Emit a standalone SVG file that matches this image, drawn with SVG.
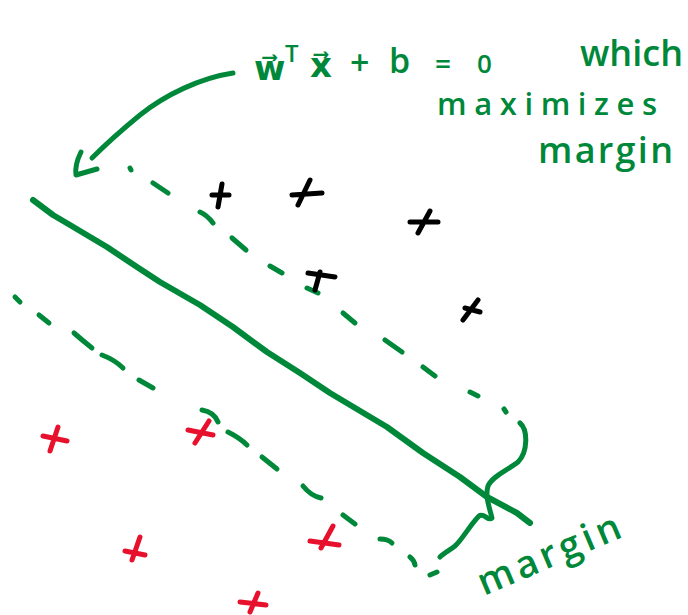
<svg xmlns="http://www.w3.org/2000/svg" width="688" height="615" viewBox="0 0 688 615">
<style>
.g{fill:none;stroke:#00883a;stroke-linecap:round;stroke-linejoin:round}
.main{stroke-width:6}
.dash{stroke-width:5}
.k{fill:none;stroke:#000;stroke-width:5;stroke-linecap:round}
.r{fill:none;stroke:#e8112d;stroke-width:5;stroke-linecap:round}
.hw{fill:#00883a;font-family:"Open Sans","DejaVu Sans",sans-serif;font-weight:600}
</style>
<rect width="688" height="615" fill="#fff"/>

<g id="lines">
  <path id="hyperplane" class="g main" d="M33,200 L53,215 L70,225 L107,247 L137,267 L160,282 L200,305 L233,327 L267,352 L300,373 L330,393 L387,427 L423,453 L460,477 L487,497 L517,513 L530,523"/>
  <g id="upper-margin" class="g dash">
    <path d="M130,168 L131,170"/>
    <path d="M153,183 L168,193"/>
    <path d="M200,212 Q207,215 213,223"/>
    <path d="M232,238 L246,250"/>
    <path d="M270,266 L282,273"/>
    <path d="M307,288 L318,293"/>
    <path d="M343,313 L355,323"/>
    <path d="M385,340 L402,352"/>
    <path d="M423,367 L435,376"/>
    <path d="M470,392 L478,396"/>
    <path d="M504,409 L506,412"/>
  </g>
  <g id="lower-margin" class="g dash">
    <path d="M15,297 L20,302"/>
    <path d="M39,315 L49,323"/>
    <path d="M74,333 Q82,340 92,348"/>
    <path d="M102,355 Q115,360 123,368"/>
    <path d="M139,380 L153,388"/>
    <path d="M202,410 Q214,412 218,422"/>
    <path d="M228,432 Q240,438 247,445"/>
    <path d="M262,457 L277,469"/>
    <path d="M303,486 Q311,496 321,498"/>
    <path d="M343,515 L355,524"/>
    <path d="M380,539 Q388,539 392,543"/>
    <path d="M410,557 Q414,560 415,565"/>
    <path d="M430,575 L437,572"/>
  </g>
</g>

<g id="connectors">
  <g id="arrow-to-hyperplane" class="g dash">
    <path d="M233,73 C200,78 165,95 140,115 C118,133 100,150 92,158"/>
    <path d="M81,152 C77,160 75,168 76,175 L97,169"/>
  </g>
  <path id="margin-brace" class="g dash" d="M520,423 C528,430 528,452 518,462 C508,470 492,476 488,486 C485,496 489,506 492,518 C488,522 484,512 479,516 C470,525 462,540 455,546 C450,550 444,553 440,557"/>
</g>

<g id="positive-points" class="k">
  <g id="p1"><path d="M212,195 L229,195 M222,184 L218,207"/></g>
  <g id="p2"><path d="M292,195 L322,193 M310,180 L298,205"/></g>
  <g id="p3"><path d="M410,222 L438,222 M430,211 L418,233"/></g>
  <g id="p4"><path d="M308,273 L335,277 M320,272 L315,290"/></g>
  <g id="p5"><path d="M465,308 L480,312 M478,300 L463,320"/></g>
</g>

<g id="negative-points" class="r">
  <g id="n1"><path d="M43,436 L67,441 M58,427 L50,451"/></g>
  <g id="n2"><path d="M188,430 L213,435 M209,421 L195,443"/></g>
  <g id="n3"><path d="M125,551 L145,555 M140,537 L132,560"/></g>
  <g id="n4"><path d="M310,541 L339,545 M333,526 L321,548"/></g>
  <g id="n5"><path d="M240,602 L266,605 M258,593 L250,612"/></g>
</g>

<g id="label-equation">
  <text class="hw" font-size="34"><tspan x="254" y="80">w&#x20D7;</tspan><tspan x="285" y="62" font-size="24">T</tspan><tspan x="310" y="77">x&#x20D7;</tspan><tspan x="350" y="75">+</tspan><tspan x="389" y="73">b</tspan><tspan x="435" y="74" font-size="28">=</tspan><tspan x="477" y="73" font-size="26">0</tspan></text>
</g>
<g id="label-which">
  <text class="hw" font-size="36" x="580" y="66" textLength="103" lengthAdjust="spacing">which</text>
  <text class="hw" font-size="31" x="437" y="115" textLength="220" lengthAdjust="spacing">maximizes</text>
  <text class="hw" font-size="36" x="538" y="163" textLength="135" lengthAdjust="spacing">margin</text>
</g>
<g id="label-margin">
  <text class="hw" font-size="38" x="484" y="596" textLength="152" lengthAdjust="spacing" transform="rotate(-23 484 596)">margin</text>
</g>
</svg>
